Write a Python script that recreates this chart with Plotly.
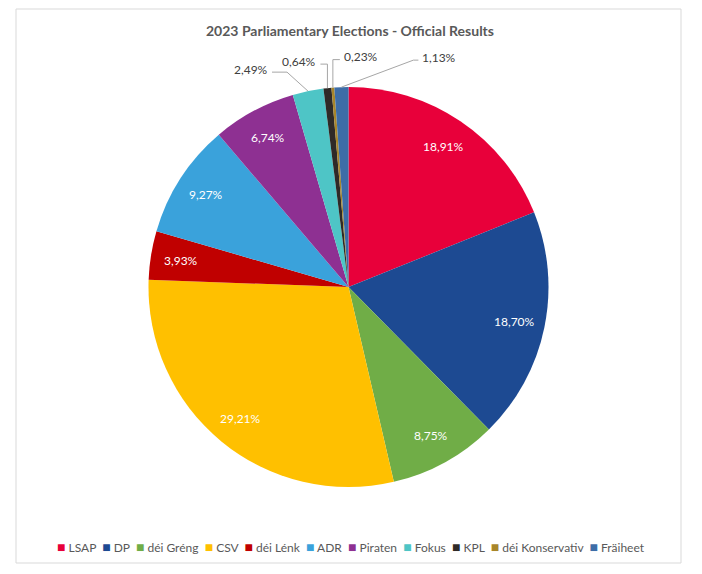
import math
import plotly.graph_objects as go

# ---- data ----
parties = ["LSAP", "DP", "déi Gréng", "CSV", "déi Lénk", "ADR", "Piraten",
           "Fokus", "KPL", "déi Konservativ", "Fräiheet"]
shares = [18.91, 18.70, 8.75, 29.21, 3.93, 9.27, 6.74, 2.49, 0.64, 0.23, 1.13]
colors = ["#E8003A", "#1D4A92", "#70AD47", "#FFC000", "#C00000", "#3AA2DB",
          "#8E3092", "#4EC5C6", "#2F2A27", "#A8862A", "#3D6DA7"]
title_text = "2023 Parliamentary Elections - Official Results"

# ---- layout constants (pixels in the browser window) ----
W, H = 702, 574
PAD = 8  # default page body margin
FW, FH = W - 2 * PAD, H - 2 * PAD
CX, CY, R = 348.5, 287.0, 200.0
FONT = "Lato, Carlito, Calibri, sans-serif"
INSIDE_R = 0.85
# callouts for small slices: elbow / line end offsets relative to the arc point
callouts = {
    "Fokus": dict(elbow=(-21, -19), end=(-36, -19), side="right"),
    "KPL": dict(elbow=(0, -24), end=(-7, -24), side="right"),
    "déi Konservativ": dict(elbow=(0, -28), end=(7, -28), side="left"),
    "Fräiheet": dict(elbow=(72, -27), end=(77, -27), side="left"),
}


def fmt(v):
    return f"{v:.2f}".replace(".", ",") + "%"


def px_x(x):
    return (x - PAD) / FW


def px_y(y):
    return 1 - (y - PAD) / FH


fig = go.Figure()
fig.add_trace(go.Pie(
    labels=parties, values=shares, sort=False, direction="clockwise",
    rotation=0, textinfo="none", hoverinfo="label+percent",
    marker=dict(colors=colors, line=dict(width=0)),
    showlegend=False,
    domain=dict(x=[px_x(CX - R), px_x(CX + R)], y=[px_y(CY + R), px_y(CY - R)]),
))

annotations = []
shapes = []
total = sum(shares)
cum = 0.0
for name, v in zip(parties, shares):
    mid = (cum + v / 2) / total * 2 * math.pi
    cum += v
    sx, sy = math.sin(mid), -math.cos(mid)
    if name in callouts:
        c = callouts[name]
        ax, ay = CX + R * sx, CY + R * sy
        ex, ey = ax + c["elbow"][0], ay + c["elbow"][1]
        lx, ly = ax + c["end"][0], ay + c["end"][1]
        shapes.append(dict(type="path", xref="x", yref="y",
                           path=f"M{ax},{ay} L{ex},{ey} L{lx},{ly}",
                           line=dict(color="#A6A6A6", width=1)))
        right = c["side"] == "right"
        annotations.append(dict(x=lx - 2 if right else lx + 2, y=ly - 3, xref="x", yref="y",
                                text=fmt(v), showarrow=False,
                                xanchor="right" if right else "left", yanchor="middle",
                                font=dict(family=FONT, size=12, color="#404040")))
    else:
        annotations.append(dict(x=CX + INSIDE_R * R * sx, y=CY + INSIDE_R * R * sy,
                                xref="x", yref="y", text=fmt(v), showarrow=False,
                                xanchor="center", yanchor="middle",
                                font=dict(family=FONT, size=12, color="white")))

# title
annotations.append(dict(x=350, y=30, xref="x", yref="y", text=f"<b>{title_text}</b>",
                        showarrow=False, xanchor="center", yanchor="middle",
                        font=dict(family=FONT, size=14, color="#595959")))

# legend line built from categories and colours
nb = "\u00a0"
legend_parts = [f"<span style='color:{col};font-size:14px'>■</span>{nb}{p}"
                for p, col in zip(parties, colors)]
annotations.append(dict(x=351, y=546, xref="x", yref="y", text=(nb * 2).join(legend_parts),
                        showarrow=False, xanchor="center", yanchor="middle",
                        font=dict(family=FONT, size=12, color="#595959")))

# chart border
shapes.append(dict(type="rect", xref="x", yref="y", x0=16, y0=9, x1=681, y1=563,
                   line=dict(color="#D9D9D9", width=1), fillcolor="rgba(0,0,0,0)"))

fig.update_layout(
    width=FW, height=FH, margin=dict(l=0, r=0, t=0, b=0),
    paper_bgcolor="white", plot_bgcolor="rgba(0,0,0,0)",
    xaxis=dict(range=[PAD, W - PAD], visible=False, fixedrange=True),
    yaxis=dict(range=[H - PAD, PAD], visible=False, fixedrange=True),
    annotations=annotations, shapes=shapes, showlegend=False,
)

fig.write_html("out.html")
